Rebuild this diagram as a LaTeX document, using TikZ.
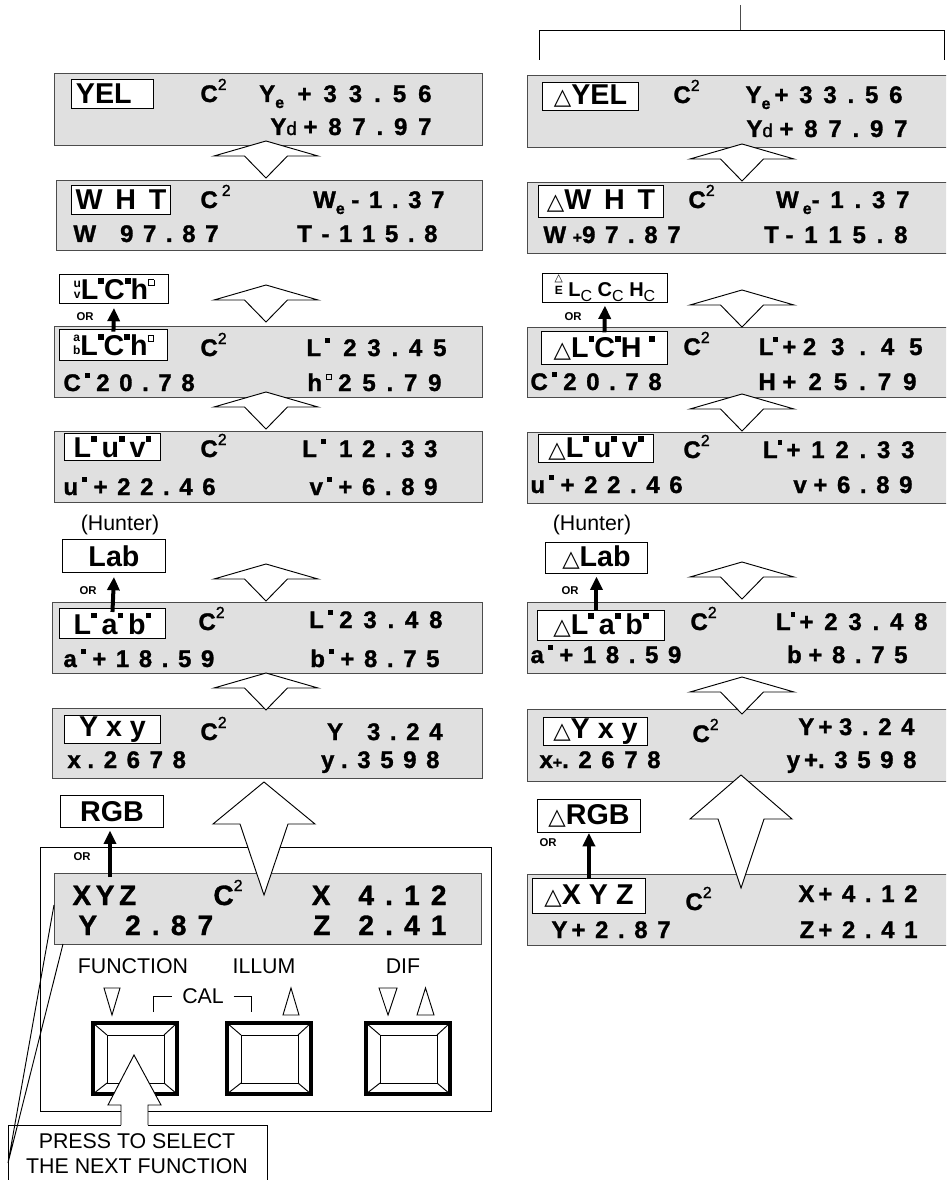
\documentclass[tikz,border=0pt]{standalone}
\usepackage{fontspec}
\setmainfont{Liberation Sans}
\newfontfamily\symfont{DejaVu Sans}
\usetikzlibrary{arrows.meta}

\newcommand\sq{\rule[0.55em]{0.2em}{0.2em}}
\newcommand\hsq{\raisebox{0.5em}{\fboxsep=0pt\fboxrule=0.45pt\fbox{\rule{0pt}{0.18em}\hspace{0.18em}}}}
\newcommand\two{\raisebox{0.5em}{\mdseries\fontsize{12}{12}\selectfont 2}}
\newcommand\tri{{\mdseries\symfont\fontsize{17}{17}\selectfont △}}
\newcommand\smalltri{{\mdseries\symfont\fontsize{8}{8}\selectfont △}}
\newcommand\lo[1]{\raisebox{-0.25em}{\fontsize{12}{12}\selectfont #1}}
\newcommand\dd{{\mdseries\fontsize{14}{14}\selectfont d}}
\newcommand\stk[2]{\raisebox{0.05em}{\fontsize{9}{10}\selectfont\shortstack{#1\\#2}}}
% spaced digits of the display
\newcommand\ls[2][0.4em]{\def\lsgap{#1}\lsfirst#2\relax}
\def\lsfirst#1{#1\lsloop}
\def\lsloop#1{\ifx\relax#1\else\hspace{\lsgap}#1\expandafter\lsloop\fi}

\tikzset{
  lcd/.style={draw=black!70, fill=black!12},
  lbl/.style 2 args={draw, fill=white, anchor=north west, inner sep=0pt,
    minimum width=#1*0.75pt, minimum height=#2*0.75pt,
    font=\bfseries\fontsize{21.5}{21.5}\selectfont},
  reading/.style={anchor=base west, inner sep=0pt,
    font=\bfseries\fontsize{18}{18}\selectfont\addfontfeature{FakeBold=1.2}},
  bigreading/.style={reading, font=\bfseries\fontsize{21}{21}\selectfont\addfontfeature{FakeBold=1.2}},
  ortext/.style={inner sep=0pt, font=\bfseries\fontsize{8.5}{8.5}\selectfont},
  orarrow/.style={line width=3pt, -{Triangle[width=9pt,length=10pt]}},
  swap/.style={draw, fill=white},
  keytext/.style={inner sep=0pt, font=\fontsize{16}{18.75}\selectfont},
}

\begin{document}
\begin{tikzpicture}[x=0.75pt,y=-0.75pt,line width=0.7pt]
 \clip (0,0) rectangle (946,1180);
 % bracket at the top
 \draw[black!70] (740,5) -- (740,30);
 \draw (539,60) |- (944,30) -- (944,60);

 % front panel
 \draw (40,847) rectangle (491,1111);

 % displays
 \foreach \xa/\ya/\xb/\yb in {54/73/482/145, 56/180/482/250, 54/326/482/397,
   54/431/482/502, 52/602/482/673, 52/708/482/778, 54/873/481/944,
   527/75/950/147, 527/182/950/253, 527/327/950/397, 527/432/950/503,
   527/602/950/673, 527/709/950/781, 527/874/950/945}
   \draw[lcd] (\xa,\ya) rectangle (\xb,\yb);

 % keys
 \node[keytext, anchor=base] (fn) at (133,973) {FUNCTION};
 \node[keytext, anchor=base] (il) at (264,973) {ILLUM};
 \node[keytext, anchor=base] (df) at (403,973) {DIF};
 \node[keytext] (cal) at (203,996) {CAL};
 \draw (153,1012) |- ([xshift=-7pt]cal.west);
 \draw ([xshift=7pt]cal.east) -| (251,1012);
 \draw (104,988) -- (120,988) -- (112,1015) -- cycle;
 \draw (283,1015) -- (299,1015) -- (291,988) -- cycle;
 \draw (379,988) -- (397,988) -- (388,1015) -- cycle;
 \draw (417,1015) -- (434,1015) -- (425.5,988) -- cycle;
 \foreach \bx in {93,227,366} {
   \draw (\bx+14,1035) rectangle (\bx+71,1083);
   \draw (\bx,1023) -- (\bx+14,1035) (\bx+84,1023) -- (\bx+71,1035)
         (\bx,1094) -- (\bx+14,1083) (\bx+84,1094) -- (\bx+71,1083);
   \draw[line width=2.5pt] (\bx,1023) rectangle (\bx+84,1094);
 }

 % big arrows
 \draw[swap] (264,782) -- (315,824) -- (288,824) -- (264,895) -- (240,824) -- (213,824) -- cycle;
 \draw[swap] (741,775) -- (792,819) -- (764,819) -- (741,888) -- (718,819) -- (690,819) -- cycle;
 % up/down arrows between displays
 \foreach \x/\t in {266/141, 266/285, 266/392, 266/564, 266/673,
                    742/144, 742/290, 742/394, 742/562, 742/677}
   \draw[swap] (\x,\t) -- ++(52,15) -- ++(-30.5,0) -- ++(-21.5,22)
     -- ++(-21.5,-22) -- ++(-30.5,0) -- cycle;

 % function labels, left
 \node[lbl={82}{29}] (yelBox) at (71,79) {YEL\hspace*{13pt}};
 \node[lbl={99}{29}] (whtBox) at (71,185) {W\, H\, T};
 \node[lbl={109}{29}] (uvBox) at (59,274) {\stk{u}{v}L\sq C\sq h\hsq};
 \node[lbl={108}{31}] (lchBox) at (59,329) {\stk{a}{b}L\sq C\sq h\hsq};
 \node[lbl={96}{27}] (luvBox) at (64,433) {L\sq\,u\sq\,v\sq};
 \node[keytext] (hunter) at (120,525) {(Hunter)};
 \node[lbl={103}{33}] (habBox) at (62,539) {Lab};
 \node[lbl={106}{30}] (labBox) at (59,608) {L\sq\,a\sq\,b\sq};
 \node[lbl={96}{28}] (yxyBox) at (64,715) {Y x y};
 \node[lbl={103}{32}] (rgbBox) at (60,795) {RGB};
 % function labels, right
 \node[lbl={96}{28}] (dyelBox) at (542,82) {\tri YEL};
 \node[lbl={125}{32}] (dwhtBox) at (538,185) {\tri W\, H\, T};
 \node[lbl={125}{29}] (dlcBox) at (542,273)
   {\stk{\smalltri}{E}\fontsize{15}{15}\selectfont\ L\lo{\mdseries C} C\lo{\mdseries C} H\lo{\mdseries C}};
 \node[lbl={126}{33}] (dlchBox) at (541,331) {\tri L\sq C\sq H\ \sq};
 \node[lbl={115}{28}] (dluvBox) at (538,434) {\tri L\sq\,u\sq\,v\sq};
 \node[keytext] (dhunter) at (592,525) {(Hunter)};
 \node[lbl={102}{31}] (dhabBox) at (545,542) {\tri Lab};
 \node[lbl={127}{30}] (dlabBox) at (537,610) {\tri L\sq\,a\sq\,b\sq};
 \node[lbl={104}{28}] (dyxyBox) at (543,717) {\tri Y x y};
 \node[lbl={103}{33}] (drgbBox) at (537,799) {\tri RGB};
 \node[lbl={113}{35}] (dxyzBox) at (532,878) {\tri X Y Z};

 % readings, left
 \node[reading] (yelCsq) at (200,102) {C\two};
 \node[reading, anchor=base east] (yelYe) at (432,102) {Y\lo{e}\ \ \ls[0.5em]{+33.56}};
 \node[reading, anchor=base east] (yelYd) at (432,135) {Y\dd\ \ls[0.45em]{+87.97}};
 \node[reading] (whtCsq) at (200,208) {C\,\two};
 \node[reading, anchor=base east] (whtWe) at (445,208) {W\lo{e}\ \ls{-1.37}};
 \node[reading] (whtW) at (73,242) {W\quad\ls{97.87}};
 \node[reading, anchor=base east] (whtT) at (438,242) {\ls{T-115.8}};
 \node[reading] (lchCsq) at (200,356) {C\two};
 \node[reading, anchor=base east] (lchL) at (447,356) {L\,\sq\ \ \ls[0.45em]{23.45}};
 \node[reading] (lchC) at (63,391) {C\,\sq\ \ls{20.78}};
 \node[reading, anchor=base east] (lchH) at (442,391) {h\,\hsq\ \ls[0.45em]{25.79}};
 \node[reading] (luvCsq) at (200,457) {C\two};
 \node[reading, anchor=base east] (luvL) at (438,457) {L\,\sq\ \ \ls{12.33}};
 \node[reading] (luvU) at (63,495) {u\,\sq\ \ls{+22.46}};
 \node[reading, anchor=base east] (luvV) at (438,495) {v\,\sq\ \ls{+6.89}};
 \node[reading] (labCsq) at (198,630) {C\two};
 \node[reading, anchor=base east] (labL) at (443,628) {L\,\sq\ \ls[0.45em]{23.48}};
 \node[reading] (labA) at (63,667) {a\,\sq\ \ls{+18.59}};
 \node[reading, anchor=base east] (labB) at (440,667) {b\,\sq\ \ls{+8.75}};
 \node[reading] (yxyCsq) at (200,740) {C\two};
 \node[reading, anchor=base east] (yxyY) at (443,740) {Y\quad\ls{3.24}};
 \node[reading] (yxyX) at (67,768) {x\ \ls{.2678}};
 \node[reading, anchor=base east] (yxyYy) at (440,768) {y\ \ls{.3598}};
 \node[bigreading] (xyzName) at (72,905) {X\,Y\,Z};
 \node[bigreading] (xyzCsq) at (213,905) {C\two};
 \node[bigreading, anchor=base east] (xyzX) at (447,905) {X\quad\ls{4.12}};
 \node[bigreading] (xyzY) at (78,935) {Y\quad\ls{2.87}};
 \node[bigreading, anchor=base east] (xyzZ) at (447,935) {Z\quad\ls{2.41}};
 % readings, right
 \node[reading] (dyelCsq) at (673,103) {C\two};
 \node[reading, anchor=base east] (dyelYe) at (903,103) {Y\lo{e}\,\ls[0.45em]{+33.56}};
 \node[reading, anchor=base east] (dyelYd) at (908,137) {Y\dd\ \ls[0.45em]{+87.97}};
 \node[reading] (dwhtCsq) at (688,208) {C\two};
 \node[reading, anchor=base east] (dwhtWe) at (910,208) {W\,\lo{e}\ls[0.45em]{-1.37}};
 \node[reading] (dwhtW) at (543,243) {W\ {\fontsize{12}{12}\selectfont+}\ls{97.87}};
 \node[reading, anchor=base east] (dwhtT) at (908,243) {T\ \ls[0.45em]{-115.8}};
 \node[reading] (dlchCsq) at (683,355) {C\two};
 \node[reading, anchor=base east] (dlchL) at (923,355) {L\sq\,+\ \ls[0.62em]{23.45}};
 \node[reading] (dlchC) at (530,390) {C\,\sq\ \ls{20.78}};
 \node[reading, anchor=base east] (dlchH) at (917,390) {H\ \ls[0.5em]{+25.79}};
 \node[reading] (dluvCsq) at (683,458) {C\two};
 \node[reading, anchor=base east] (dluvL) at (915,458) {L\sq\,\ls[0.45em]{+12.33}};
 \node[reading] (dluvU) at (530,493) {u\,\sq\ \ls{+22.46}};
 \node[reading, anchor=base east] (dluvV) at (913,493) {v\ \ls{+6.89}};
 \node[reading] (dlabCsq) at (690,630) {C\two};
 \node[reading, anchor=base east] (dlabL) at (928,630) {L\sq\,\ls[0.45em]{+23.48}};
 \node[reading] (dlabA) at (530,663) {a\,\sq\ \ls{+18.59}};
 \node[reading, anchor=base east] (dlabB) at (908,663) {b\ \ls{+8.75}};
 \node[reading] (dyxyCsq) at (692,742) {C\two};
 \node[reading, anchor=base east] (dyxyY) at (915,735) {Y\,+\ \ls{3.24}};
 \node[reading] (dyxyX) at (539,768) {x{\fontsize{12}{12}\selectfont+}\ls{.2678}};
 \node[reading, anchor=base east] (dyxyYy) at (917,768) {y\,+\ls{.3598}};
 \node[reading] (dxyzCsq) at (685,910) {C\two};
 \node[reading, anchor=base east] (dxyzX) at (918,902) {X\,\ls{+4.12}};
 \node[reading] (dxyzY) at (551,938) {Y\,\ls{+2.87}};
 \node[reading, anchor=base east] (dxyzZ) at (918,938) {Z\,\ls{+2.41}};

 % alternative functions
 \node[ortext] (or1) at (85,317) {OR};
 \draw[orarrow] ([yshift=-2pt]lchBox.north) -- ([yshift=-3pt]uvBox.south);
 \node[ortext] (or2) at (88,591) {OR};
 \draw[orarrow] ([yshift=-3pt]labBox.north) -- ([yshift=-3pt]habBox.south);
 \node[ortext] (or3) at (82,857) {OR};
 \coordinate (xyzTop) at (110,877);
 \draw[orarrow] (xyzTop) -- ([yshift=-2pt]xyzTop |- rgbBox.south);
 \node[ortext] (or4) at (573,317) {OR};
 \draw[orarrow] ([yshift=-1pt]dlchBox.north) -- ([yshift=-2pt]dlcBox.south);
 \node[ortext] (or5) at (570,591) {OR};
 \draw[orarrow] (dhabBox.south |- dlabBox.north) -- ([yshift=-2pt]dhabBox.south);
 \node[ortext] (or6) at (548,843) {OR};
 \draw[orarrow] ([yshift=-1pt]dxyzBox.north) -- (drgbBox.south);

 % callout
 \node[keytext, align=center] (press) at (137,1154) {PRESS TO SELECT\\THE NEXT FUNCTION};
 \draw (121,1125) -| (8,1190);
 \draw (148,1125) -| (267,1190);
 \coordinate (ptr) at (8,1163);
 \draw (ptr) -- (54,905) (ptr) -- (63,944);
 \draw[fill=white] (121,1125) -- (121,1105) -- (108,1105) -- (134,1055)
   -- (161,1105) -- (148,1105) -- (148,1125);
\end{tikzpicture}
\end{document}
